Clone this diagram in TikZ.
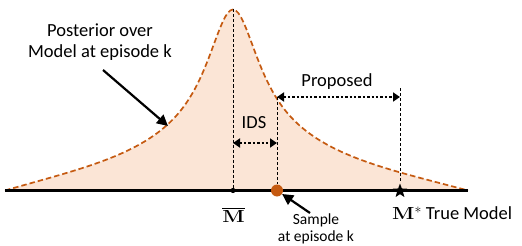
\documentclass[tikz,border=0pt]{standalone}
\usepackage{graphicx}
\usepackage{fontspec}
\setmainfont{Carlito}
\newfontfamily\serifM{Latin Modern Roman}
\usetikzlibrary{arrows.meta,shapes.geometric}
\definecolor{curveorange}{HTML}{C55A11}
\definecolor{fillpeach}{HTML}{FBE5D6}
\newcommand{\bigM}{{\serifM\bfseries\fontsize{17.5}{20}\selectfont\scalebox{1.2}[1]{M}}}
\begin{document}
\begin{tikzpicture}[x=1pt,y=-1pt,
  declare function={
    hb(\d)=0.7/(1+(\d/32)^2)+0.3/(1+(\d/120)^2);
    hh(\d,\D)=181*(hb(\d)-hb(\D)*(\d/\D)^3);
  },
  lbl/.style={font=\fontsize{18.5}{21}\selectfont, inner sep=0pt, align=center},
  smalllbl/.style={font=\fontsize{15.5}{17}\selectfont, inner sep=0pt, align=center},
  vguide/.style={black, line width=0.8pt, dash pattern=on 3pt off 2pt},
  dotarrow/.style={black, line width=2.4pt, dash pattern=on 2.4pt off 2pt, {Triangle[length=7pt,width=9pt]}-{Triangle[length=7pt,width=9pt]}},
  pointer/.style={black, line width=2.2pt, -{Triangle[length=11pt,width=11pt]}}
]
\useasboundingbox (0,0) rectangle (522,246);
% posterior curve
\fill[fillpeach] plot[domain=5:233, samples=90] (\x,{190.5-hh(233-\x,228)})
  -- plot[domain=233:468, samples=90] (\x,{190.5-hh(\x-233,235)}) -- cycle;
\draw[curveorange, line width=1.7pt, dash pattern=on 5.5pt off 3pt]
  plot[domain=5:233, samples=90] (\x,{190.5-hh(233-\x,228)})
  -- plot[domain=233:468, samples=90] (\x,{190.5-hh(\x-233,235)});
% axis
\coordinate (axL) at (5,190.5);
\coordinate (axR) at (468,190.5);
\draw[black, line width=2.4pt] (axL) -- (axR);
% key points
\coordinate (peak) at (233,9.5);
\coordinate (mbar) at (233,190.5);
\coordinate (idsTop) at (277,97);
\coordinate (propTop) at (400,88);
\node[circle, fill=curveorange, minimum size=12pt, inner sep=0pt] (sample) at (277,190.5) {};
\node[star, star points=5, star point ratio=2.4, fill=black, minimum size=15pt, inner sep=0pt] (star) at (400,191) {};
\draw[vguide] (peak) -- (mbar);
\draw[vguide] (idsTop) -- (sample);
\draw[vguide] (propTop) -- (star);
\fill[black] (mbar) circle (2.6pt);
% arrows
\coordinate (idsL) at (233,143);
\coordinate (idsR) at (277,143);
\draw[dotarrow] (idsL) -- (idsR);
\coordinate (propL) at (277,97);
\coordinate (propR) at (400,97);
\draw[dotarrow] (propL) -- (propR);
% labels
\node[lbl] (post) at (100,42.5) {Posterior over\\Model at episode k};
\node[lbl] (ids) at (254,123) {IDS};
\node[lbl] (prop) at (337,82) {Proposed};
\node[inner sep=0pt, anchor=base] (mbarlbl) at (233.5,222) {$\overline{\hbox{\bigM}}$};
\node[inner sep=0pt, anchor=base west] (mstar) at (392,219.5) {\bigM\raisebox{2.5pt}{\serifM\fontsize{14}{14}\selectfont *}\hspace{4.5pt}\rmfamily\fontsize{18.5}{21}\selectfont True Model};
\node[smalllbl] (samplelbl) at (316,229) {Sample\\at episode k};
\coordinate (postTail) at (103,70);
\coordinate (postHead) at (168,126);
\draw[pointer] (postTail) -- (postHead);
\coordinate (sampTail) at (310,213);
\draw[pointer] (sampTail) -- (sample);
\end{tikzpicture}
\end{document}
